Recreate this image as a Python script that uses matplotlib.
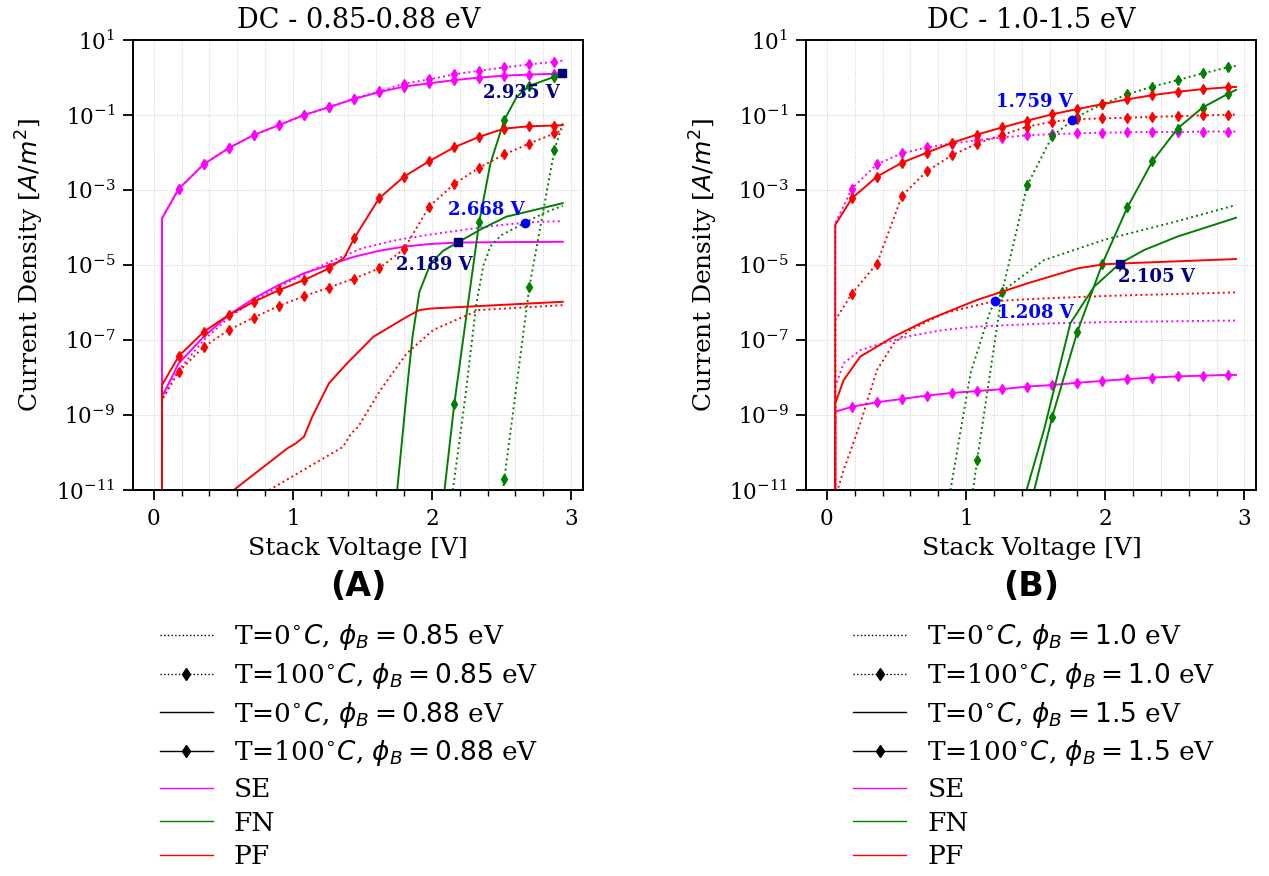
import numpy as np
import matplotlib
matplotlib.use('Agg')
import matplotlib.pyplot as plt
from matplotlib.lines import Line2D
from matplotlib.ticker import MultipleLocator, NullLocator

plt.rcParams['font.family'] = 'serif'
plt.rcParams['font.serif'] = ['DejaVu Serif']
plt.rcParams['font.size'] = 15

NI = float('-inf')   # log10(0): the curves start from zero at V = 0

# shared voltage grid of the marked (T=100 C) curves, markers every 0.18 V
XM = [0, 0.06, 0.18, 0.36, 0.54, 0.72, 0.9, 1.08, 1.26, 1.44, 1.62, 1.8,
      1.98, 2.16, 2.34, 2.52, 2.70, 2.88, 2.94]

# ---------------- panel A : phi_B = 0.85 / 0.88 eV  (values are log10 J) -------------
a_se_lo_t0_x = [0, 0.06, 0.12, 0.18, 0.36, 0.54, 0.72, 0.9, 1.08, 1.26, 1.5, 1.75,
                2.0, 2.25, 2.5, 2.75, 2.94]
a_se_lo_t0 = [NI, -8.6, -8.1, -7.8, -7.0, -6.4, -5.95, -5.58, -5.25, -4.92, -4.55,
              -4.33, -4.18, -4.05, -3.93, -3.85, -3.83]
a_se_lo_t100 = [NI, -3.75, -2.97, -2.31, -1.88, -1.53, -1.27, -1.0, -0.79, -0.56,
                -0.37, -0.16, -0.05, 0.085, 0.18, 0.27, 0.35, 0.42, 0.45]
a_se_hi_t0_x = [0, 0.06, 0.18, 0.36, 0.54, 0.72, 0.9, 1.08, 1.26, 1.44, 1.62, 1.8,
                1.98, 2.19, 2.5, 2.94]
a_se_hi_t0 = [NI, -8.51, -7.62, -6.91, -6.33, -5.89, -5.53, -5.22, -5.0, -4.78,
              -4.62, -4.51, -4.44, -4.40, -4.39, -4.38]
a_se_hi_t100 = [NI, -3.75, -2.97, -2.31, -1.88, -1.53, -1.27, -1.0, -0.79, -0.57,
                -0.39, -0.24, -0.155, -0.07, 0.0, 0.05, 0.08, 0.1, 0.11]

a_fn_lo_t0_x = [2.15, 2.24, 2.32, 2.37, 2.42, 2.5, 2.667, 2.8, 2.94]
a_fn_lo_t0 = [-11.0, -8.5, -6.0, -5.0, -4.5, -4.2, -3.876, -3.62, -3.42]
a_fn_lo_t100_x = [2.5, 2.52, 2.70, 2.88, 2.94]
a_fn_lo_t100 = [-11.3, -10.7, -5.58, -1.93, -1.22]
a_fn_hi_t0_x = [1.75, 1.82, 1.86, 1.91, 1.99, 2.08, 2.189, 2.35, 2.535, 2.75, 2.94]
a_fn_hi_t0 = [-11.0, -8.33, -6.91, -5.71, -4.96, -4.62, -4.39, -4.05, -3.71, -3.52, -3.35]
a_fn_hi_t100_x = [2.09, 2.16, 2.34, 2.42, 2.52, 2.61, 2.70, 2.88, 2.935]
a_fn_hi_t100 = [-11.0, -8.71, -3.84, -2.29, -1.13, -0.51, -0.22, 0.02, 0.11]

a_pf_lo_t0_x = [0.83, 1.36, 1.42, 1.47, 1.63, 1.82, 2.01, 2.20, 2.34, 2.94]
a_pf_lo_t0 = [-11.0, -9.85, -9.49, -9.31, -8.33, -7.35, -6.73, -6.42, -6.2, -6.07]
a_pf_lo_t100 = [NI, -8.6, -7.84, -7.18, -6.73, -6.40, -6.09, -5.83, -5.6, -5.36,
                -5.09, -4.57, -3.44, -2.84, -2.40, -2.05, -1.76, -1.49, -1.4]
a_pf_hi_t0_x = [0.575, 0.96, 1.02, 1.08, 1.14, 1.26, 1.39, 1.58, 1.82, 1.91, 1.99, 2.94]
a_pf_hi_t0 = [-11.0, -9.89, -9.76, -9.58, -9.04, -8.15, -7.62, -6.91, -6.38, -6.2,
              -6.16, -5.98]
a_pf_hi_t100_x = [0, 0.06, 0.18, 0.36, 0.54, 0.72, 0.9, 1.08, 1.26, 1.37, 1.44, 1.62,
                  1.8, 1.98, 2.16, 2.34, 2.52, 2.70, 2.88, 2.94]
a_pf_hi_t100 = [NI, -8.2, -7.43, -6.78, -6.33, -5.98, -5.67, -5.40, -5.09, -4.8, -4.29,
                -3.22, -2.64, -2.23, -1.86, -1.58, -1.36, -1.3, -1.28, -1.27]

# ---------------- panel B : phi_B = 1.0 / 1.5 eV ----------------
b_se_lo_t0_x = [0, 0.06, 0.12, 0.24, 0.36, 0.6, 0.84, 1.08, 1.56, 2.04, 2.94]
b_se_lo_t0 = [NI, -8.24, -7.62, -7.27, -7.13, -6.89, -6.73, -6.64, -6.56, -6.52, -6.48]
b_se_lo_t100 = [NI, -3.89, -2.96, -2.31, -2.02, -1.86, -1.76, -1.67, -1.6, -1.54,
                -1.51, -1.49, -1.47, -1.46, -1.45, -1.45, -1.44, -1.44, -1.44]
b_se_hi_t100 = [NI, -8.91, -8.78, -8.66, -8.57, -8.48, -8.41, -8.36, -8.31, -8.24,
                -8.2, -8.14, -8.09, -8.04, -8.0, -7.97, -7.95, -7.93, -7.93]

b_fn_lo_t0_x = [0.888, 1.032, 1.176, 1.27, 1.56, 2.0, 2.5, 2.94]
b_fn_lo_t0 = [-11.0, -7.89, -6.2, -5.67, -4.87, -4.32, -3.85, -3.4]
b_fn_lo_t100_x = [1.05, 1.08, 1.26, 1.44, 1.62, 1.8, 1.98, 2.16, 2.34, 2.52, 2.70,
                  2.88, 2.94]
b_fn_lo_t100 = [-11.0, -10.2, -5.71, -2.87, -1.56, -1.04, -0.71, -0.45, -0.24, -0.07,
                0.11, 0.27, 0.31]
b_fn_hi_t0_x = [1.435, 1.56, 1.75, 1.92, 2.105, 2.28, 2.52, 2.94]
b_fn_hi_t0 = [-11.0, -9.4, -6.55, -5.58, -4.96, -4.6, -4.24, -3.74]
b_fn_hi_t100_x = [1.49, 1.62, 1.8, 1.98, 2.16, 2.34, 2.52, 2.70, 2.88, 2.94]
b_fn_hi_t100 = [-11.0, -9.04, -6.78, -4.96, -3.46, -2.23, -1.36, -0.8, -0.44, -0.33]

b_pf_lo_t0_x = [0.06, 0.12, 0.24, 0.36, 0.48, 0.6, 0.84, 1.08, 1.208, 1.56, 2.04, 2.94]
b_pf_lo_t0 = [-11.2, -10.47, -9.22, -7.8, -7.09, -6.73, -6.29, -6.07, -5.96, -5.89,
              -5.82, -5.73]
b_pf_lo_t100 = [NI, -6.47, -5.76, -4.96, -3.15, -2.49, -2.07, -1.76, -1.53, -1.31,
                -1.18, -1.11, -1.09, -1.07, -1.05, -1.03, -1.01, -0.99, -0.99]
b_pf_hi_t0_x = [0, 0.06, 0.12, 0.24, 0.48, 0.72, 1.08, 1.44, 1.8, 1.99, 2.105, 2.94]
b_pf_hi_t0 = [NI, -8.69, -8.07, -7.44, -6.91, -6.47, -5.93, -5.49, -5.09, -4.98,
              -4.96, -4.84]
b_pf_hi_t100 = [NI, -3.93, -3.22, -2.64, -2.27, -2.0, -1.74, -1.52, -1.33, -1.15,
                -0.98, -0.84, -0.71, -0.58, -0.47, -0.38, -0.31, -0.26, -0.25]

# crossing points: (voltage, log10 J, text x, text log10 y, colour, marker)
a_points = [(2.935, 0.11, 2.64, -0.40, 'navy', 's'),
            (2.668, -3.876, 2.39, -3.52, 'blue', 'o'),
            (2.189, -4.39, 2.02, -5.0, 'navy', 's')]
b_points = [(1.759, -1.13, 1.49, -0.64, 'blue', 'o'),
            (1.208, -5.96, 1.50, -6.29, 'blue', 'o'),
            (2.105, -4.96, 2.37, -5.31, 'navy', 's')]

SE_C, FN_C, PF_C = '#ff00ff', 'green', '#ff0000'

panel_a = [
    (a_se_lo_t0_x, a_se_lo_t0, SE_C, ':', False),
    (XM, a_se_lo_t100, SE_C, ':', True),
    (a_se_hi_t0_x, a_se_hi_t0, SE_C, '-', False),
    (XM, a_se_hi_t100, SE_C, '-', True),
    (a_fn_lo_t0_x, a_fn_lo_t0, FN_C, ':', False),
    (a_fn_lo_t100_x, a_fn_lo_t100, FN_C, ':', True),
    (a_fn_hi_t0_x, a_fn_hi_t0, FN_C, '-', False),
    (a_fn_hi_t100_x, a_fn_hi_t100, FN_C, '-', True),
    (a_pf_lo_t0_x, a_pf_lo_t0, PF_C, ':', False),
    (XM, a_pf_lo_t100, PF_C, ':', True),
    (a_pf_hi_t0_x, a_pf_hi_t0, PF_C, '-', False),
    (a_pf_hi_t100_x, a_pf_hi_t100, PF_C, '-', True),
]
panel_b = [
    (b_se_lo_t0_x, b_se_lo_t0, SE_C, ':', False),
    (XM, b_se_lo_t100, SE_C, ':', True),
    (XM, b_se_hi_t100, SE_C, '-', True),
    (b_fn_lo_t0_x, b_fn_lo_t0, FN_C, ':', False),
    (b_fn_lo_t100_x, b_fn_lo_t100, FN_C, ':', True),
    (b_fn_hi_t0_x, b_fn_hi_t0, FN_C, '-', False),
    (b_fn_hi_t100_x, b_fn_hi_t100, FN_C, '-', True),
    (b_pf_lo_t0_x, b_pf_lo_t0, PF_C, ':', False),
    (XM, b_pf_lo_t100, PF_C, ':', True),
    (b_pf_hi_t0_x, b_pf_hi_t0, PF_C, '-', False),
    (XM, b_pf_hi_t100, PF_C, '-', True),
]


def marker_mask(xs):
    # markers only on the 0.18 V grid
    return [x > 0 and abs(x / 0.18 - round(x / 0.18)) < 1e-6 for x in xs]


def draw_panel(ax, series, points, title, tag, lo, hi, leg_x):
    for xs, lg, col, ls, marked in series:
        j = np.power(10.0, np.array(lg))
        if marked:
            ax.plot(xs, j, color=col, ls=ls, lw=1.4, marker='d', ms=5,
                    markevery=marker_mask(xs))
        else:
            ax.plot(xs, j, color=col, ls=ls, lw=1.4)
    for v, lj, tx, ty, col, mk in points:
        ax.plot(v, 10 ** lj, marker=mk, color=col, ms=6, ls='none', zorder=5)
        ax.text(tx, 10 ** ty, '%.3f V' % v, color=col, fontsize=13,
                fontweight='bold', ha='center', va='center', zorder=6)

    ax.set_yscale('log')
    ax.set_ylim(1e-11, 1e1)
    ax.set_xlim(-0.147, 3.087)
    ax.set_yticks([1e1, 1e-1, 1e-3, 1e-5, 1e-7, 1e-9, 1e-11])
    ax.yaxis.set_minor_locator(NullLocator())
    ax.xaxis.set_major_locator(MultipleLocator(1))
    ax.xaxis.set_minor_locator(MultipleLocator(0.2))
    ax.grid(which='major', ls=':', color='#cccccc', lw=0.7)
    ax.xaxis.grid(which='minor', ls=':', color='#cccccc', lw=0.7)
    ax.tick_params(which='major', length=7, width=1.3, pad=6, labelsize=15.5)
    ax.tick_params(which='minor', length=4, width=1.0)
    for s in ax.spines.values():
        s.set_linewidth(1.4)
    ax.set_title(title, fontsize=19.5, pad=9)
    ax.set_xlabel('Stack Voltage [V]', fontsize=18, labelpad=5)
    ax.set_ylabel(r'Current Density [$A/m^2$]', fontsize=18, labelpad=7)
    ax.text(0.5, -0.215, tag, transform=ax.transAxes, ha='center', va='center',
            fontsize=24, fontweight='bold', family='DejaVu Sans')

    handles = [
        Line2D([], [], color='k', ls=':', lw=1),
        Line2D([], [], color='k', ls=':', lw=1, marker='d', ms=6),
        Line2D([], [], color='k', ls='-', lw=1),
        Line2D([], [], color='k', ls='-', lw=1, marker='d', ms=6),
        Line2D([], [], color=SE_C, lw=1),
        Line2D([], [], color=FN_C, lw=1),
        Line2D([], [], color=PF_C, lw=1),
    ]
    labels = [
        r'T=0$^{\circ}C$, $\phi_B = %s$ eV' % lo,
        r'T=100$^{\circ}C$, $\phi_B = %s$ eV' % lo,
        r'T=0$^{\circ}C$, $\phi_B = %s$ eV' % hi,
        r'T=100$^{\circ}C$, $\phi_B = %s$ eV' % hi,
        'SE', 'FN', 'PF',
    ]
    ax.legend(handles, labels, loc='upper left', bbox_to_anchor=(leg_x, -0.27),
              frameon=False, fontsize=19, handlelength=2.0, handletextpad=0.8,
              labelspacing=0.33, borderaxespad=0)


fig = plt.figure(figsize=(12.69, 8.76), dpi=100)
ax_a = fig.add_axes([0.1050, 0.4406, 0.3546, 0.5137])
ax_b = fig.add_axes([0.6355, 0.4406, 0.3546, 0.5137])

draw_panel(ax_a, panel_a, a_points, 'DC - 0.85-0.88 eV', '(A)', '0.85', '0.88', 0.036)
draw_panel(ax_b, panel_b, b_points, 'DC - 1.0-1.5 eV', '(B)', '1.0', '1.5', 0.081)

plt.savefig('out.png', dpi=100)
